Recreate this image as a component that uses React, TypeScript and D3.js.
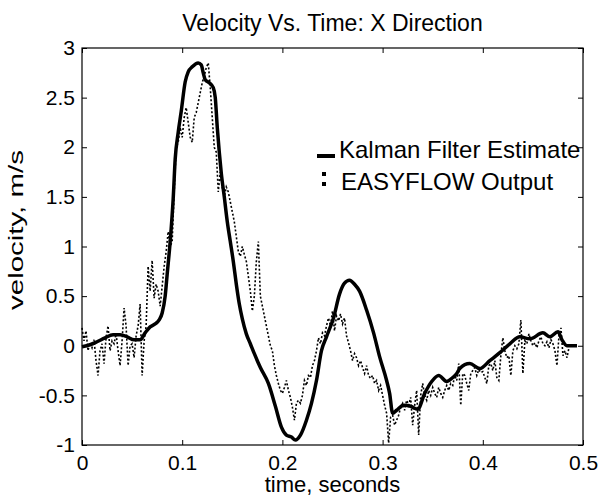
import React, { useEffect, useRef } from "react";
import * as d3 from "d3";

const xTicks = [0, 0.1, 0.2, 0.3, 0.4, 0.5];
const yTicks = [-1, -0.5, 0, 0.5, 1, 1.5, 2, 2.5, 3];

// Kalman filter estimate (time s, velocity m/s)
const kalmanTime = [
  0.0, 0.008, 0.015, 0.023, 0.031, 0.038, 0.045, 0.052, 0.058, 0.063, 0.068, 0.073, 0.077, 0.08,
  0.083, 0.085, 0.088, 0.091, 0.093, 0.096, 0.099, 0.103, 0.106, 0.11, 0.116, 0.119, 0.121, 0.123,
  0.127, 0.131, 0.133, 0.135, 0.137, 0.139, 0.142, 0.145, 0.148, 0.151, 0.154, 0.157, 0.16, 0.164,
  0.168, 0.172, 0.178, 0.186, 0.193, 0.199, 0.204, 0.209, 0.213, 0.218, 0.224, 0.229, 0.234, 0.239,
  0.244, 0.251, 0.257, 0.262, 0.267, 0.272, 0.277, 0.284, 0.291, 0.297, 0.304, 0.307, 0.31, 0.314,
  0.321, 0.328, 0.335, 0.342, 0.349, 0.356, 0.364, 0.37, 0.374, 0.377, 0.387, 0.397, 0.407, 0.417,
  0.427, 0.437, 0.447, 0.46, 0.467, 0.475, 0.479, 0.484, 0.494,
];
const kalmanVel = [
  -0.01, 0.01, 0.04, 0.08, 0.11, 0.11, 0.09, 0.06, 0.06, 0.13, 0.19, 0.22, 0.26, 0.33,
  0.5, 0.72, 1.05, 1.48, 1.88, 2.15, 2.36, 2.66, 2.76, 2.81, 2.85, 2.83, 2.75, 2.68,
  2.65, 2.6, 2.5, 2.2, 1.95, 1.74, 1.5, 1.25, 1.05, 0.85, 0.62, 0.42, 0.27, 0.12,
  0.02, -0.08, -0.22, -0.38, -0.61, -0.82, -0.9, -0.92, -0.95, -0.9, -0.75, -0.58, -0.35, -0.05,
  0.09, 0.28, 0.52, 0.63, 0.66, 0.62, 0.55, 0.36, 0.13, -0.11, -0.35, -0.48, -0.68, -0.65,
  -0.6, -0.61, -0.64, -0.48, -0.36, -0.3, -0.36, -0.32, -0.28, -0.23, -0.18, -0.23, -0.15, -0.07,
  0.02, 0.09, 0.07, 0.13, 0.09, 0.14, 0.06, 0.0, 0.0,
];

// EASYFLOW output, one sample every 2 ms starting at t = 0
const easyflowStep = 0.002;
const easyflowVel = [
  0.18, 0.05, 0.15, -0.05, 0.03, -0.02, 0.06, -0.15, -0.3, -0.05,
  0.02, -0.18, 0.08, 0.2, -0.05, 0.05, 0.02, 0.12, -0.05, -0.2,
  0.05, 0.38, 0.2, -0.2, 0.0, 0.02, -0.12, 0.1, 0.2, 0.42,
  -0.3, 0.05, 0.2, 0.8, 0.55, 0.86, 0.48, 0.62, 0.55, 0.4,
  0.6, 0.8, 0.95, 1.15, 1.0, 1.05, 1.55, 2.0, 2.05, 2.2,
  2.1, 2.3, 2.4, 2.25, 2.1, 2.05, 2.3, 2.35, 2.45, 2.55,
  2.65, 2.72, 2.8, 2.85, 2.6, 2.3, 2.0, 1.95, 1.55, 1.75,
  1.6, 1.5, 1.6, 1.55, 1.45, 1.35, 1.25, 1.1, 0.95, 0.9,
  1.0, 0.92, 0.85, 0.7, 0.55, 0.35, 0.5, 0.85, 1.05, 0.5,
  0.4, 0.3, 0.2, 0.1, 0.0, -0.05, -0.2, -0.3, -0.38, -0.45,
  -0.48, -0.42, -0.35, -0.45, -0.52, -0.62, -0.75, -0.58, -0.55, -0.58,
  -0.5, -0.35, -0.4, -0.3, -0.32, -0.2, -0.15, -0.05, 0.08, 0.02,
  0.13, 0.1, 0.2, 0.28, 0.2, 0.35, 0.15, 0.3, 0.25, 0.32,
  0.22, 0.28, 0.1, 0.03, -0.05, -0.15, -0.08, -0.12, -0.2, -0.15,
  -0.22, -0.28, -0.2, -0.3, -0.33, -0.3, -0.38, -0.35, -0.45, -0.4,
  -0.5, -0.6, -0.68, -0.98, -0.72, -0.7, -0.8, -0.75, -0.7, -0.62,
  -0.58, -0.65, -0.55, -0.6, -0.52, -0.8, -0.6, -0.45, -0.9, -0.5,
  -0.38, -0.5, -0.55, -0.45, -0.5, -0.42, -0.48, -0.52, -0.42, -0.48,
  -0.52, -0.45, -0.4, -0.45, -0.38, -0.4, -0.3, -0.35, -0.18, -0.6,
  -0.28, -0.3, -0.38, -0.45, -0.28, -0.25, -0.22, -0.3, -0.24, -0.27,
  -0.26, -0.32, -0.38, -0.2, -0.18, -0.25, -0.15, -0.32, -0.35, -0.1,
  0.08, -0.05, -0.12, -0.1, -0.3, -0.05, 0.0, -0.03, 0.02, 0.26,
  -0.28, 0.05, 0.02, 0.12, 0.05, 0.0, 0.03, -0.02, 0.05, 0.09,
  0.02, 0.0, 0.04, -0.02, 0.06, 0.02, -0.05, -0.2, 0.1, 0.18,
  -0.1, -0.05, -0.12, -0.02,
];

const W = 601;
const H = 498;
const margin = { top: 48, right: 18, bottom: 53, left: 82 };
const font = "'Liberation Sans', Arial, sans-serif";

const App = () => {
  const svgRef = useRef<SVGSVGElement>(null);

  useEffect(() => {
    const svg = d3.select(svgRef.current);
    svg.selectAll("*").remove();

    const x = d3.scaleLinear().domain([0, 0.5]).range([margin.left, W - margin.right]);
    const y = d3.scaleLinear().domain([-1, 3]).range([H - margin.bottom, margin.top]);
    const fmt = (d: any) => String(+(+d).toFixed(2));

    // data lines
    const kalman = kalmanTime.map((t, i) => [t, kalmanVel[i]] as [number, number]);
    const easyflow = easyflowVel.map((v, i) => [i * easyflowStep, v] as [number, number]);
    const line = d3
      .line<[number, number]>()
      .x((d) => x(d[0]))
      .y((d) => y(d[1]));

    svg
      .append("path")
      .attr("d", line(easyflow))
      .attr("fill", "none")
      .attr("stroke", "#000")
      .attr("stroke-width", 1.6)
      .attr("stroke-dasharray", "2,2");

    svg
      .append("path")
      .attr("d", line.curve(d3.curveMonotoneX)(kalman))
      .attr("fill", "none")
      .attr("stroke", "#000")
      .attr("stroke-width", 3.5)
      .attr("stroke-linejoin", "round");

    // axes box, ticks pointing inward
    const x0 = margin.left;
    const y0 = H - margin.bottom;
    const x1 = W - margin.right;
    const y1 = margin.top;

    const styleAxis = (g: any) => {
      g.select(".domain").remove();
      g.attr("font-size", 21).attr("font-family", font);
      g.selectAll("text").attr("fill", "#000");
    };

    svg
      .append("g")
      .attr("transform", `translate(0,${y0})`)
      .call(d3.axisBottom(x).tickValues(xTicks).tickSize(-5).tickPadding(10).tickFormat(fmt))
      .call(styleAxis);
    svg
      .append("g")
      .attr("transform", `translate(0,${y1})`)
      .call(d3.axisTop(x).tickValues(xTicks).tickSize(-5).tickFormat(() => ""))
      .call(styleAxis);
    svg
      .append("g")
      .attr("transform", `translate(${x0},0)`)
      .call(d3.axisLeft(y).tickValues(yTicks).tickSize(-5).tickPadding(7).tickFormat(fmt))
      .call(styleAxis);
    svg
      .append("g")
      .attr("transform", `translate(${x1},0)`)
      .call(d3.axisRight(y).tickValues(yTicks).tickSize(-5).tickFormat(() => ""))
      .call(styleAxis);

    svg
      .append("rect")
      .attr("x", x0)
      .attr("y", y1)
      .attr("width", x1 - x0)
      .attr("height", y0 - y1)
      .attr("fill", "none")
      .attr("stroke", "#000")
      .attr("stroke-width", 1.2);

    // titles
    svg
      .append("text")
      .attr("x", (x0 + x1) / 2)
      .attr("y", 31)
      .attr("text-anchor", "middle")
      .attr("font-family", font)
      .attr("font-size", 23)
      .text("Velocity Vs. Time: X Direction");

    svg
      .append("text")
      .attr("x", (x0 + x1) / 2)
      .attr("y", 492)
      .attr("text-anchor", "middle")
      .attr("font-family", font)
      .attr("font-size", 22)
      .text("time, seconds");

    svg
      .append("text")
      .attr("transform", `translate(23,230) rotate(-90)`)
      .attr("text-anchor", "middle")
      .attr("font-family", font)
      .attr("font-size", 21)
      .attr("textLength", 160)
      .attr("lengthAdjust", "spacingAndGlyphs")
      .text("velocity, m/s");

    // legend
    const legend = svg.append("g").attr("font-family", font).attr("font-size", 24);
    legend
      .append("line")
      .attr("x1", 317)
      .attr("x2", 335)
      .attr("y1", 156)
      .attr("y2", 156)
      .attr("stroke", "#000")
      .attr("stroke-width", 4);
    legend.append("text").attr("x", 339).attr("y", 158).text("Kalman Filter Estimate");
    legend
      .append("line")
      .attr("x1", 324)
      .attr("x2", 324)
      .attr("y1", 172)
      .attr("y2", 187)
      .attr("stroke", "#000")
      .attr("stroke-width", 4)
      .attr("stroke-dasharray", "4,6");
    legend.append("text").attr("x", 341).attr("y", 190).text("EASYFLOW Output");
  }, []);

  return (
    <svg
      ref={svgRef}
      width={W}
      height={H}
      style={{ position: "absolute", left: 0, top: 0, background: "#fff" }}
    />
  );
};

export default App;
